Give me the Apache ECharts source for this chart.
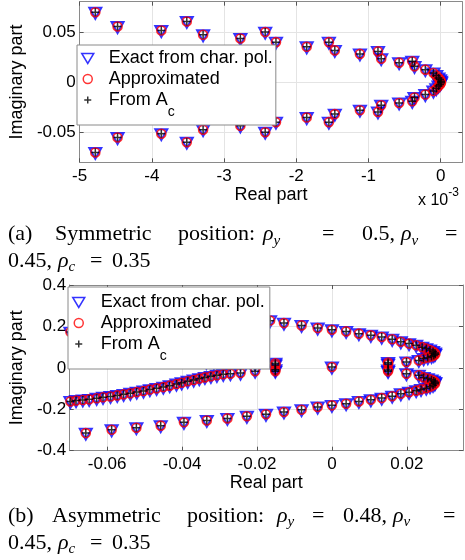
<!DOCTYPE html>
<html><head><meta charset="utf-8">
<script src="https://cdn.jsdelivr.net/npm/echarts@6/dist/echarts.min.js"></script>
<style>html,body{margin:0;padding:0;background:#fff}#c{width:465px;height:560px}</style>
</head><body><div id="c"></div>
<script>
// ---------- data ----------
// (a) symmetric position : real part given in units of 1e-3
const symReal = [
  -4.783,-4.475,-3.869,-3.516,-3.290,-2.774,-2.430,-2.281,-1.855,-1.548,-1.466,-1.118,-0.868,-0.823,-0.575,-0.393,-0.362,-0.212,-0.100,-0.060,-0.030,-0.009,0.005,
  -4.783,-4.475,-3.869,-3.516,-3.290,-2.774,-2.430,-2.281,-1.855,-1.548,-1.466,-1.118,-0.868,-0.823,-0.575,-0.393,-0.362,-0.212,-0.100,-0.060,-0.030,-0.009,0.005
];
const symImag = [
  0.0695,0.0553,0.0513,0.0603,0.0470,0.0434,0.0497,0.0397,0.0351,0.0397,0.0315,0.0280,0.0305,0.0232,0.0193,0.0206,0.0156,0.0123,0.0090,0.0065,0.0040,0.0024,0.0008,
  -0.0702,-0.0553,-0.0515,-0.0600,-0.0475,-0.0437,-0.0500,-0.0400,-0.0354,-0.0400,-0.0320,-0.0281,-0.0298,-0.0232,-0.0209,-0.0192,-0.0155,-0.0125,-0.0090,-0.0066,-0.0040,-0.0024,-0.0008
];
// (b) asymmetric position
const asymReal = [
  -0.0698,-0.0683,-0.0165,
  -0.0128,-0.0081,-0.0038,0.0000,0.0038,0.0072,0.0104,0.0133,0.0161,0.0184,0.0206,0.0225,0.0241,0.0252,0.0262,0.0270,0.0275,0.0276,0.0272,0.0266,0.0256,0.0245,0.0232,0.0199,
  0.0199,0.0232,0.0245,0.0256,0.0266,0.0272,0.0276,0.0275,0.0270,0.0262,0.0252,0.0238,0.0225,0.0206,0.0184,0.0161,0.0133,0.0104,0.0072,0.0038,0.0000,-0.0038,-0.0081,-0.0128,-0.0176,-0.0227,-0.0279,-0.0334,-0.0395,-0.0457,-0.0522,-0.0588,-0.0657,
  0.0150,0.0150,0.0150,0.0150,0.0000,-0.0151,-0.0151,-0.0151,-0.0151,
  -0.0335,-0.0315,-0.0290,-0.0271,-0.0244,-0.0205,
  -0.0698,-0.0683,-0.0665,-0.0648,-0.0628,-0.0611,-0.0591,-0.0573,-0.0556,-0.0538,-0.0521,-0.0503,-0.0486,-0.0468,-0.0450,-0.0433,-0.0415,-0.0401,-0.0385,-0.0369,-0.0354,-0.0339,-0.0323,-0.0307,-0.0290,-0.0271,-0.0244,-0.0205
];
const asymImag = [
  0.1726,0.1690,0.2280,
  0.216,0.205,0.192,0.184,0.176,0.165,0.157,0.149,0.138,0.126,0.117,0.109,0.100,0.093,0.086,0.079,0.072,0.066,0.060,0.055,0.050,0.045,0.036,0.028,
  -0.028,-0.036,-0.046,-0.052,-0.058,-0.064,-0.070,-0.077,-0.084,-0.091,-0.098,-0.104,-0.110,-0.118,-0.125,-0.137,-0.146,-0.154,-0.162,-0.173,-0.181,-0.189,-0.202,-0.213,-0.224,-0.234,-0.244,-0.254,-0.263,-0.279,-0.289,-0.299,-0.315,
  0.026,0.018,-0.010,-0.017,0.004,0.022,0.014,-0.009,-0.016,
  0.027,0.026,0.025,0.024,0.022,0.021,
  -0.162,-0.158,-0.155,-0.152,-0.147,-0.142,-0.138,-0.133,-0.128,-0.123,-0.117,-0.112,-0.105,-0.099,-0.093,-0.086,-0.078,-0.072,-0.065,-0.059,-0.052,-0.046,-0.041,-0.036,-0.031,-0.028,-0.025,-0.016
];
const seriesNames = ['Exact from char. pol.', 'Approximated', 'From A_c'];
const symXTicks = [-5, -4, -3, -2, -1, 0];
const symYTicks = [-0.05, 0, 0.05];
const asymXTicks = [-0.06, -0.04, -0.02, 0, 0.02];
const asymYTicks = [-0.4, -0.2, 0, 0.2, 0.4];

// ---------- chart ----------
const SANS = 'Liberation Sans, Arial, Helvetica, sans-serif';
const SERIF = 'Liberation Serif, Times New Roman, serif';
const pairs = (xs, ys) => xs.map((x, i) => [x, ys[i]]);
const symData = pairs(symReal, symImag);
const asymData = pairs(asymReal, asymImag);

function xAxes(grid, min, max, ticks, nameGap, margin) {
  const common = {gridIndex: grid, type: 'value', min, max,
    axisLine: {show: true, onZero: false, lineStyle: {color: '#8a8a8a', width: 1}},
    axisTick: {show: true, inside: true, length: 4, customValues: ticks, lineStyle: {color: '#555'}}};
  return [
    Object.assign({}, common, {position: 'bottom',
      axisLabel: {customValues: ticks, color: '#000', fontSize: 17, fontFamily: SANS, margin},
      splitLine: {show: true, lineStyle: {color: '#e4e4e4', width: 1}},
      name: 'Real part', nameLocation: 'middle', nameGap,
      nameTextStyle: {color: '#000', fontSize: 18, fontFamily: SANS}}),
    Object.assign({}, common, {position: 'top', axisLabel: {show: false}, splitLine: {show: false}})
  ];
}
function yAxes(grid, min, max, ticks, nameGap, margin) {
  const common = {gridIndex: grid, type: 'value', min, max,
    axisLine: {show: true, onZero: false, lineStyle: {color: '#8a8a8a', width: 1}},
    axisTick: {show: true, inside: true, length: 4, customValues: ticks, lineStyle: {color: '#555'}}};
  return [
    Object.assign({}, common, {position: 'left',
      axisLabel: {customValues: ticks, color: '#000', fontSize: 17, fontFamily: SANS, margin},
      splitLine: {show: true, lineStyle: {color: '#e4e4e4', width: 1}},
      name: 'Imaginary part', nameLocation: 'middle', nameGap,
      nameTextStyle: {color: '#000', fontSize: 18, fontFamily: SANS}}),
    Object.assign({}, common, {position: 'right', axisLabel: {show: false}, splitLine: {show: false}})
  ];
}

const triPath = 'path://M0,0L12,0L6,11Z';
const plusPath = 'path://M4,0L4,8M0,4L8,4';
function poleSeries(ax, data) {
  const base = {type: 'scatter', xAxisIndex: ax, yAxisIndex: ax, data, silent: true};
  return [
    Object.assign({}, base, {name: seriesNames[0], symbol: triPath, symbolSize: [12, 11], symbolOffset: [0, 1],
      itemStyle: {color: 'rgba(0,0,0,0)', borderColor: '#0000ff', borderWidth: 2}}),
    Object.assign({}, base, {name: seriesNames[1], symbol: 'circle', symbolSize: 9,
      itemStyle: {color: 'rgba(0,0,0,0)', borderColor: '#ff0000', borderWidth: 1.6}}),
    Object.assign({}, base, {name: seriesNames[2], symbol: plusPath, symbolSize: 8,
      itemStyle: {color: 'rgba(0,0,0,0)', borderColor: '#000000', borderWidth: 1.5}})
  ];
}

const legendIcons = [
  'path://M0,0M14,14M1,2.5L13,2.5L7,12.5Z',
  'path://M0,0M14,14M11.5,7A4.5,4.5,0,1,1,2.5,7A4.5,4.5,0,1,1,11.5,7Z',
  'path://M0,0M14,14M7,3.5L7,10.5M3.5,7L10.5,7'
];
function makeLegend(left, top, padding, textPad) {
  return {
    left, top, orient: 'vertical', selectedMode: false,
    backgroundColor: '#ffffff', borderColor: '#8a8a8a', borderWidth: 1, borderRadius: 0,
    padding, itemGap: -5, itemWidth: 14, itemHeight: 14,
    itemStyle: {borderWidth: 1.5},
    data: seriesNames.map((n, i) => ({name: n, icon: legendIcons[i]})),
    formatter: n => n === 'From A_c' ? 'From A{sub|c}' : n,
    textStyle: {color: '#000', fontSize: 18, fontFamily: SANS, lineHeight: 26, padding: [0, 0, 0, textPad],
      rich: {sub: {color: '#000', fontSize: 14, fontFamily: SANS, lineHeight: 1, height: 2, verticalAlign: 'bottom'}}}
  };
}

const capRich = {
  r: {fontFamily: SERIF, fontSize: 22, fontStyle: 'italic', fill: '#000', lineHeight: 14},
  s: {fontFamily: SERIF, fontSize: 15, fontStyle: 'italic', fill: '#000', lineHeight: 1, height: 2, verticalAlign: 'bottom'}
};
function capWord(x, y, text) {
  return {type: 'text', x, y, silent: true,
    style: {text, fill: '#000', font: '22px ' + SERIF, lineHeight: 14, verticalAlign: 'middle', align: 'left', rich: capRich}};
}
const captions = [
  capWord(8, 234.7, '(a)'), capWord(55, 234.7, 'Symmetric'), capWord(178, 234.7, 'position:'),
  capWord(263, 234.7, '{r|ρ}{s|y}'), capWord(322, 234.7, '='), capWord(362, 234.7, '0.5,'), capWord(401, 234.7, '{r|ρ}{s|v}'), capWord(445, 234.7, '='),
  capWord(8, 261.3, '0.45,'), capWord(58, 261.3, '{r|ρ}{s|c}'), capWord(90, 261.3, '='), capWord(112, 261.3, '0.35'),
  capWord(8, 516.3, '(b)'), capWord(52, 516.3, 'Asymmetric'), capWord(187, 516.3, 'position:'),
  capWord(277, 516.3, '{r|ρ}{s|y}'), capWord(312, 516.3, '='), capWord(343, 516.3, '0.48,'), capWord(393, 516.3, '{r|ρ}{s|v}'), capWord(443, 516.3, '='),
  capWord(8, 543, '0.45,'), capWord(58, 543, '{r|ρ}{s|c}'), capWord(90, 543, '='), capWord(112, 543, '0.35'),
  {type: 'text', x: 418, y: 201, silent: true,
    style: {text: 'x 10{sup|-3}', fill: '#000', font: '16px ' + SANS, lineHeight: 18, verticalAlign: 'middle', align: 'left',
      rich: {sup: {fontFamily: SANS, fontSize: 12, fill: '#000', lineHeight: 1, height: 2, verticalAlign: 'top'}}}}
];

const chart = echarts.init(document.getElementById('c'), null, {renderer: 'canvas'});
chart.setOption({
  animation: false,
  backgroundColor: '#ffffff',
  grid: [
    {left: 72.7, top: 1.7, width: 389.6, height: 160.6, containLabel: false},
    {left: 63.5, top: 285, width: 399.5, height: 165.7, containLabel: false}
  ],
  xAxis: [].concat(xAxes(0, -5, 0.3, symXTicks, 21, 6), xAxes(1, -0.07, 0.035, asymXTicks, 23, 5)),
  yAxis: [].concat(yAxes(0, -0.08, 0.08, symYTicks, 47, 4), yAxes(1, -0.4, 0.4, asymYTicks, 38, 3.5)),
  legend: [makeLegend(77, 45, [0, 3, 6, 3], 9), makeLegend(68, 287, [2, 5, 6, 3], 10)],
  series: [].concat(poleSeries(0, symData), poleSeries(2, asymData)),
  graphic: captions
});
</script>
</body></html>
